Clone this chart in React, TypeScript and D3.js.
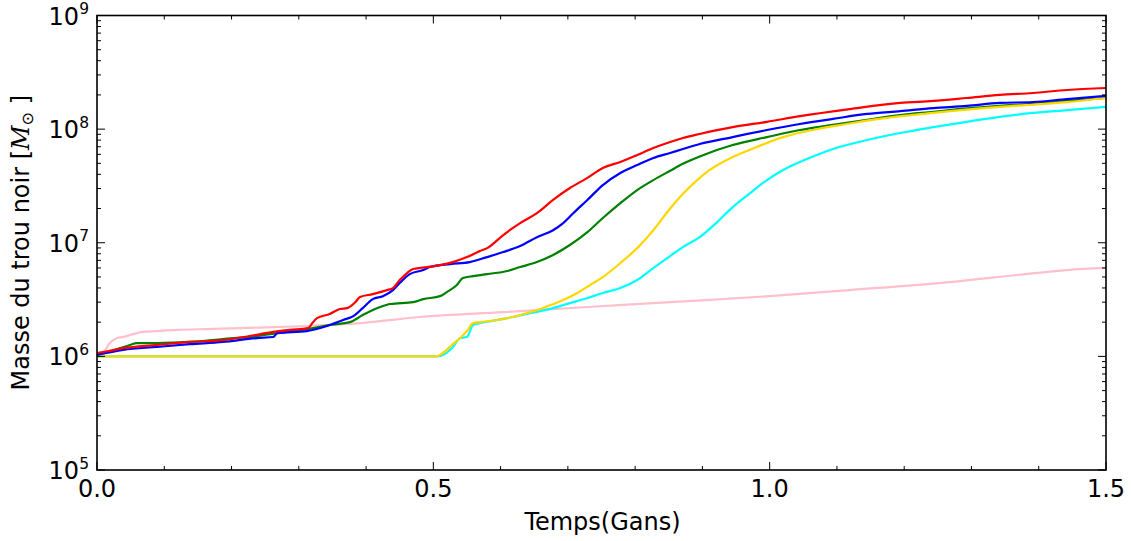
import React from "react";
import * as d3 from "d3";

// Black-hole mass growth, [time in Gyr, mass in solar masses]
const RED: [number, number][] = [
  [0, 1.07e6], [0.015, 1.11e6], [0.039, 1.18e6], [0.089, 1.26e6], [0.138, 1.34e6], [0.187, 1.39e6],
  [0.227, 1.51e6], [0.262, 1.64e6], [0.287, 1.71e6], [0.314, 1.77e6], [0.32, 1.96e6], [0.327, 2.17e6],
  [0.346, 2.36e6], [0.361, 2.61e6], [0.372, 2.66e6], [0.384, 3.0e6], [0.391, 3.33e6], [0.41, 3.53e6],
  [0.431, 3.83e6], [0.44, 3.99e6], [0.45, 4.7e6], [0.461, 5.41e6], [0.47, 5.87e6], [0.491, 6.11e6],
  [0.51, 6.36e6], [0.529, 6.76e6], [0.55, 7.48e6], [0.569, 8.44e6], [0.58, 8.97e6], [0.604, 1.17e7],
  [0.629, 1.49e7], [0.654, 1.82e7], [0.678, 2.38e7], [0.703, 3.03e7], [0.729, 3.72e7], [0.752, 4.55e7],
  [0.778, 5.14e7], [0.803, 5.92e7], [0.827, 6.82e7], [0.852, 7.71e7], [0.871, 8.36e7], [0.896, 9.06e7],
  [0.945, 1.04e8], [0.996, 1.16e8], [1.045, 1.3e8], [1.119, 1.5e8], [1.194, 1.7e8], [1.243, 1.77e8],
  [1.293, 1.88e8], [1.342, 2.0e8], [1.391, 2.08e8], [1.442, 2.21e8], [1.5, 2.3e8],
];

const BLUE: [number, number][] = [
  [0, 1.03e6], [0.039, 1.14e6], [0.089, 1.21e6], [0.138, 1.28e6], [0.187, 1.34e6], [0.238, 1.45e6],
  [0.262, 1.48e6], [0.268, 1.6e6], [0.312, 1.67e6], [0.342, 1.85e6], [0.366, 2.09e6], [0.381, 2.26e6],
  [0.395, 2.66e6], [0.41, 3.19e6], [0.425, 3.39e6], [0.44, 3.83e6], [0.45, 4.42e6], [0.465, 5.3e6],
  [0.485, 5.75e6], [0.495, 6.11e6], [0.525, 6.49e6], [0.554, 6.76e6], [0.58, 7.48e6], [0.604, 8.28e6],
  [0.629, 9.35e6], [0.654, 1.12e7], [0.678, 1.29e7], [0.693, 1.49e7], [0.708, 1.82e7], [0.729, 2.38e7],
  [0.752, 3.22e7], [0.778, 4.11e7], [0.803, 4.83e7], [0.827, 5.57e7], [0.852, 6.17e7], [0.871, 6.68e7],
  [0.896, 7.39e7], [0.945, 8.51e7], [0.996, 9.82e7], [1.045, 1.11e8], [1.094, 1.23e8], [1.145, 1.36e8],
  [1.194, 1.44e8], [1.243, 1.53e8], [1.293, 1.6e8], [1.342, 1.7e8], [1.391, 1.73e8], [1.442, 1.84e8],
  [1.5, 1.96e8],
];

const GREEN: [number, number][] = [
  [0, 1.03e6], [0.03, 1.16e6], [0.049, 1.26e6], [0.059, 1.31e6], [0.089, 1.31e6], [0.138, 1.34e6],
  [0.187, 1.42e6], [0.238, 1.51e6], [0.268, 1.6e6], [0.312, 1.74e6], [0.346, 1.89e6], [0.376, 2.0e6],
  [0.395, 2.31e6], [0.421, 2.72e6], [0.436, 2.89e6], [0.47, 3.0e6], [0.485, 3.19e6], [0.51, 3.39e6],
  [0.52, 3.68e6], [0.535, 4.25e6], [0.544, 4.89e6], [0.559, 5.09e6], [0.58, 5.3e6], [0.61, 5.64e6],
  [0.629, 6.11e6], [0.654, 6.76e6], [0.678, 7.8e6], [0.703, 9.55e6], [0.729, 1.24e7], [0.752, 1.65e7],
  [0.778, 2.23e7], [0.803, 2.91e7], [0.827, 3.56e7], [0.852, 4.3e7], [0.871, 4.95e7], [0.896, 5.75e7],
  [0.945, 7.24e7], [0.996, 8.51e7], [1.045, 9.82e7], [1.094, 1.09e8], [1.145, 1.21e8], [1.194, 1.33e8],
  [1.243, 1.42e8], [1.293, 1.52e8], [1.342, 1.6e8], [1.391, 1.67e8], [1.442, 1.77e8], [1.5, 1.88e8],
];

const GOLD: [number, number][] = [
  [0, 1.0e6], [0.505, 1.0e6], [0.514, 1.07e6], [0.529, 1.28e6], [0.54, 1.45e6], [0.55, 1.67e6],
  [0.559, 1.96e6], [0.569, 2.0e6], [0.595, 2.09e6], [0.618, 2.22e6], [0.644, 2.45e6], [0.659, 2.61e6],
  [0.678, 2.88e6], [0.693, 3.13e6], [0.714, 3.61e6], [0.733, 4.25e6], [0.752, 4.99e6], [0.778, 6.62e6],
  [0.803, 8.97e6], [0.827, 1.29e7], [0.852, 2.0e7], [0.866, 2.5e7], [0.886, 3.3e7], [0.911, 4.37e7],
  [0.945, 5.68e7], [0.981, 6.97e7], [1.02, 8.5e7], [1.07, 1.0e8], [1.119, 1.12e8], [1.145, 1.19e8],
  [1.243, 1.39e8], [1.342, 1.57e8], [1.442, 1.73e8], [1.5, 1.88e8],
];

const CYAN: [number, number][] = [
  [0, 1.0e6], [0.505, 1.0e6], [0.517, 1.05e6], [0.529, 1.21e6], [0.54, 1.45e6], [0.55, 1.48e6],
  [0.559, 1.89e6], [0.569, 1.96e6], [0.595, 2.09e6], [0.618, 2.22e6], [0.644, 2.4e6], [0.678, 2.66e6],
  [0.703, 2.94e6], [0.729, 3.26e6], [0.752, 3.61e6], [0.778, 3.99e6], [0.803, 4.7e6], [0.827, 5.99e6],
  [0.852, 7.64e6], [0.871, 9.16e6], [0.896, 1.12e7], [0.922, 1.52e7], [0.945, 2.06e7], [0.971, 2.74e7],
  [0.996, 3.56e7], [1.02, 4.37e7], [1.045, 5.14e7], [1.07, 5.92e7], [1.094, 6.68e7], [1.145, 8.02e7],
  [1.194, 9.25e7], [1.243, 1.04e8], [1.293, 1.16e8], [1.342, 1.28e8], [1.391, 1.39e8], [1.442, 1.47e8],
  [1.5, 1.57e8],
];

const PINK: [number, number][] = [
  [0, 1.07e6], [0.009, 1.09e6], [0.019, 1.31e6], [0.03, 1.45e6], [0.039, 1.48e6], [0.054, 1.57e6],
  [0.068, 1.64e6], [0.089, 1.67e6], [0.119, 1.71e6], [0.164, 1.74e6], [0.213, 1.77e6], [0.262, 1.81e6],
  [0.312, 1.85e6], [0.346, 1.89e6], [0.391, 1.96e6], [0.48, 2.22e6], [0.604, 2.45e6], [0.729, 2.72e6],
  [0.852, 3.0e6], [1.0, 3.39e6], [1.119, 3.83e6], [1.268, 4.51e6], [1.368, 5.2e6], [1.442, 5.75e6],
  [1.5, 6.0e6],
];

// Drawing order: later series are painted on top
const SERIES: { data: [number, number][]; color: string }[] = [
  { data: PINK, color: "#ffc0cb" },
  { data: CYAN, color: "#00ffff" },
  { data: GREEN, color: "#008000" },
  { data: GOLD, color: "#ffd700" },
  { data: BLUE, color: "#0000ff" },
  { data: RED, color: "#ff0000" },
];

const X_MAJOR = [0, 0.5, 1.0, 1.5];
const X_MINOR = [0.1, 0.2, 0.3, 0.4, 0.6, 0.7, 0.8, 0.9, 1.1, 1.2, 1.3, 1.4];
const Y_EXPONENTS = [5, 6, 7, 8, 9];

const W = 1131;
const H = 541;
const M = { left: 97, right: 1106, top: 15.5, bottom: 470 };
const FONT = "'DejaVu Sans', sans-serif";

export default function App() {
  const x = d3.scaleLinear().domain([0, 1.5]).range([M.left, M.right]);
  const y = d3.scaleLog().domain([1e5, 1e9]).range([M.bottom, M.top]);
  const line = d3
    .line<[number, number]>()
    .x((d) => x(d[0]))
    .y((d) => y(d[1]))
    .curve(d3.curveMonotoneX);

  const yMinor: number[] = [];
  for (let e = 5; e < 9; e++) for (let k = 2; k <= 9; k++) yMinor.push(k * Math.pow(10, e));

  const major = 8;
  const minor = 4;

  return (
    <div style={{ position: "fixed", left: 0, top: 0 }}>
      <svg width={W} height={H} style={{ display: "block", background: "#fff" }}>
        <defs>
          <clipPath id="plot">
            <rect x={M.left} y={M.top} width={M.right - M.left} height={M.bottom - M.top} />
          </clipPath>
        </defs>
        <g clipPath="url(#plot)">
          {SERIES.map((s, i) => (
            <path key={i} d={line(s.data) || ""} fill="none" stroke={s.color} strokeWidth={2.2} strokeLinejoin="round" />
          ))}
        </g>

        {/* ticks, pointing inward on all four sides */}
        <g stroke="#000" strokeWidth={1}>
          {X_MAJOR.map((t) => (
            <g key={"xM" + t}>
              <line x1={x(t)} x2={x(t)} y1={M.bottom} y2={M.bottom - major} />
              <line x1={x(t)} x2={x(t)} y1={M.top} y2={M.top + major} />
            </g>
          ))}
          {X_MINOR.map((t) => (
            <g key={"xm" + t}>
              <line x1={x(t)} x2={x(t)} y1={M.bottom} y2={M.bottom - minor} />
              <line x1={x(t)} x2={x(t)} y1={M.top} y2={M.top + minor} />
            </g>
          ))}
          {Y_EXPONENTS.map((e) => (
            <g key={"yM" + e}>
              <line x1={M.left} x2={M.left + major} y1={y(Math.pow(10, e))} y2={y(Math.pow(10, e))} />
              <line x1={M.right} x2={M.right - major} y1={y(Math.pow(10, e))} y2={y(Math.pow(10, e))} />
            </g>
          ))}
          {yMinor.map((v) => (
            <g key={"ym" + v}>
              <line x1={M.left} x2={M.left + minor} y1={y(v)} y2={y(v)} />
              <line x1={M.right} x2={M.right - minor} y1={y(v)} y2={y(v)} />
            </g>
          ))}
        </g>

        <rect
          x={M.left}
          y={M.top}
          width={M.right - M.left}
          height={M.bottom - M.top}
          fill="none"
          stroke="#000"
          strokeWidth={1.6}
        />

        {/* x tick labels */}
        {X_MAJOR.map((t) => (
          <text key={"xl" + t} x={x(t)} y={497} textAnchor="middle" fontFamily={FONT} fontSize={24} fill="#000">
            {t.toFixed(1)}
          </text>
        ))}

        {/* y tick labels: 10^n */}
        {Y_EXPONENTS.map((e) => (
          <text key={"yl" + e} x={89} y={y(Math.pow(10, e)) + 9} textAnchor="end" fontFamily={FONT} fontSize={24} fill="#000">
            10
            <tspan dy={-10.5} fontSize={15.5}>
              {e}
            </tspan>
          </text>
        ))}

        <text x={(M.left + M.right) / 2 + 1} y={530} textAnchor="middle" fontFamily={FONT} fontSize={24} fill="#000">
          Temps(Gans)
        </text>

        <text
          transform={`translate(29, ${(M.top + M.bottom) / 2}) rotate(-90)`}
          textAnchor="middle"
          fontFamily={FONT}
          fontSize={24}
          fill="#000"
        >
          Masse du trou noir [
          <tspan fontFamily="'DejaVu Serif', serif" fontStyle="italic">
            M
          </tspan>
          <tspan dy={4} fontSize={16}>
            ⊙
          </tspan>
          <tspan dy={-4}> ]</tspan>
        </text>
      </svg>
    </div>
  );
}
